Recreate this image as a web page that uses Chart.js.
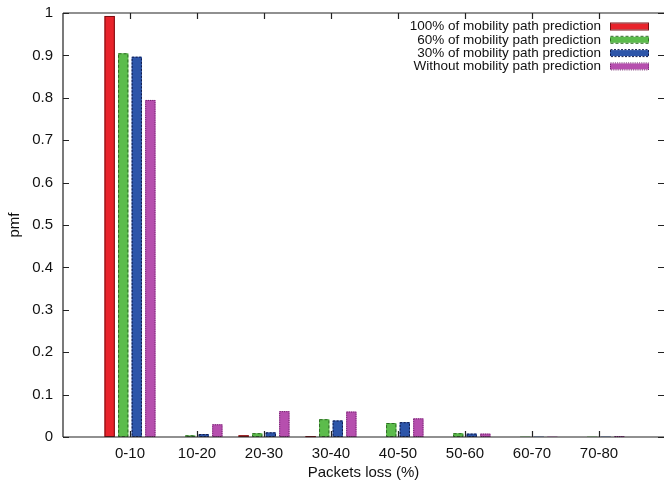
<!DOCTYPE html>
<html>
<head>
<meta charset="utf-8">
<script src="https://cdn.jsdelivr.net/npm/chart.js@4/dist/chart.umd.min.js"></script>
<style>
  html, body { margin: 0; padding: 0; background: #fff; }
</style>
</head>
<body>
<canvas id="bar-chart" width="664" height="485"></canvas>
<script>
// categories on the x axis
let categories = ['0-10', '10-20', '20-30', '30-40', '40-50', '50-60', '60-70', '70-80'];

let seriesNames = [
  '100% of mobility path prediction',
  '60% of mobility path prediction',
  '30% of mobility path prediction',
  'Without mobility path prediction',
];

// pmf values
let pred100 = [0.993, 0.000, 0.004, 0.002, 0.000, 0.000, 0.000, 0.000];
let pred60  = [0.905, 0.004, 0.009, 0.042, 0.033, 0.009, 0.001, 0.001];
let pred30  = [0.897, 0.007, 0.011, 0.039, 0.035, 0.008, 0.001, 0.001];
let noPred  = [0.795, 0.030, 0.061, 0.060, 0.044, 0.008, 0.001, 0.002];

let yTicks = [0, 0.1, 0.2, 0.3, 0.4, 0.5, 0.6, 0.7, 0.8, 0.9, 1];

let fillColors   = ['#e8232b', '#5cbc4c', '#2d55a9', '#b64fae'];
let strokeColors = ['#7a0d10', '#2e6a25', '#111a4a', '#6a1f66'];
let dashes       = [[], [3, 2], [2, 1.5], [1, 1.2]];

let font = 'Liberation Sans, Arial, Helvetica, sans-serif';

let series = [pred100, pred60, pred30, noPred];

let toPoints = (arr) => arr.map((v, i) => ({ x: i, y: v }));

// dashed outlines for the bars + frame + inward ticks + legend inside the plot
let gnuplotLook = {
  id: 'gnuplotLook',
  afterDatasetsDraw(chart) {
    let ctx = chart.ctx;
    ctx.save();
    chart.data.datasets.forEach((ds, di) => {
      let meta = chart.getDatasetMeta(di);
      meta.data.forEach((bar) => {
        let p = bar.getProps(['x', 'y', 'base', 'width'], true);
        let h = p.base - p.y;
        if (h < 0.5) return;
        ctx.strokeStyle = strokeColors[di];
        ctx.lineWidth = 1;
        ctx.setLineDash(dashes[di]);
        ctx.strokeRect(p.x - p.width / 2 + 0.5, p.y + 0.5, p.width - 1, h - 1);
      });
    });
    ctx.setLineDash([]);

    let a = chart.chartArea;
    let xs = chart.scales.x, ys = chart.scales.y;
    ctx.strokeStyle = '#222';
    ctx.lineWidth = 1.2;
    ctx.beginPath();
    ctx.moveTo(a.left, a.top); ctx.lineTo(a.right + 2, a.top);
    ctx.moveTo(a.left, a.top); ctx.lineTo(a.left, a.bottom);
    ctx.moveTo(a.left, a.bottom); ctx.lineTo(a.right + 2, a.bottom);
    // inward ticks
    categories.forEach((c, i) => {
      let px = Math.round(xs.getPixelForValue(i)) + 0.5;
      ctx.moveTo(px, a.bottom); ctx.lineTo(px, a.bottom - 6);
      ctx.moveTo(px, a.top); ctx.lineTo(px, a.top + 6);
    });
    yTicks.forEach((v) => {
      let py = Math.round(ys.getPixelForValue(v)) + 0.5;
      ctx.moveTo(a.left, py); ctx.lineTo(a.left + 6, py);
      ctx.moveTo(a.right, py); ctx.lineTo(a.right - 6, py);
    });
    ctx.stroke();

    // legend
    ctx.font = '13.5px ' + font;
    ctx.textAlign = 'right';
    ctx.textBaseline = 'middle';
    chart.data.datasets.forEach((ds, di) => {
      let y = 26.5 + di * 13.3;
      ctx.fillStyle = '#111';
      ctx.fillText(ds.label, 601, y);
      ctx.fillStyle = fillColors[di];
      ctx.fillRect(610, y - 3, 39, 6);
      ctx.strokeStyle = strokeColors[di];
      ctx.lineWidth = 1;
      ctx.setLineDash(dashes[di]);
      ctx.strokeRect(610.5, y - 3.5, 38, 7);
    });
    ctx.restore();
  },
};

let barChart = document.getElementById('bar-chart');

new Chart(barChart, {
  type: 'bar',
  data: {
    datasets: series.map((s, i) => ({
      label: seriesNames[i],
      data: toPoints(s),
      backgroundColor: fillColors[i],
      borderWidth: 0,
    })),
  },
  options: {
    responsive: false,
    animation: false,
    categoryPercentage: 0.81,
    barPercentage: 0.76,
    layout: { padding: { top: 13, right: 0, left: 0, bottom: 0 } },
    plugins: {
      legend: { display: false },
      tooltip: { enabled: false },
    },
    scales: {
      x: {
        type: 'linear',
        offset: false,
        min: -1,
        max: 7.97,
        grid: { display: false, drawTicks: false, offset: false },
        border: { display: false },
        afterBuildTicks: (scale) => {
          scale.ticks = categories.map((c, i) => ({ value: i }));
        },
        afterFit: (scale) => {
          scale.height = 48;
          scale.paddingLeft = 0;
          scale.paddingRight = 0;
        },
        ticks: {
          padding: 8,
          color: '#111',
          font: { family: font, size: 15 },
          maxRotation: 0,
          autoSkip: false,
          callback: (v) => categories[v] || '',
        },
        title: {
          display: true,
          text: 'Packets loss (%)',
          color: '#111',
          font: { family: font, size: 15 },
          padding: { top: 2, bottom: 3 },
        },
      },
      y: {
        min: 0,
        max: 1,
        grid: { display: false, drawTicks: false },
        border: { display: false },
        afterBuildTicks: (scale) => {
          scale.ticks = yTicks.map((v) => ({ value: v }));
        },
        afterFit: (scale) => {
          scale.width = 63;
          scale.paddingTop = 0;
          scale.paddingBottom = 0;
        },
        ticks: {
          padding: 10,
          color: '#111',
          font: { family: font, size: 15 },
          callback: (v) => String(v),
        },
        title: {
          display: true,
          text: 'pmf',
          color: '#111',
          font: { family: font, size: 15 },
          padding: { top: 6, bottom: 0 },
        },
      },
    },
  },
  plugins: [gnuplotLook],
});
</script>
</body>
</html>
